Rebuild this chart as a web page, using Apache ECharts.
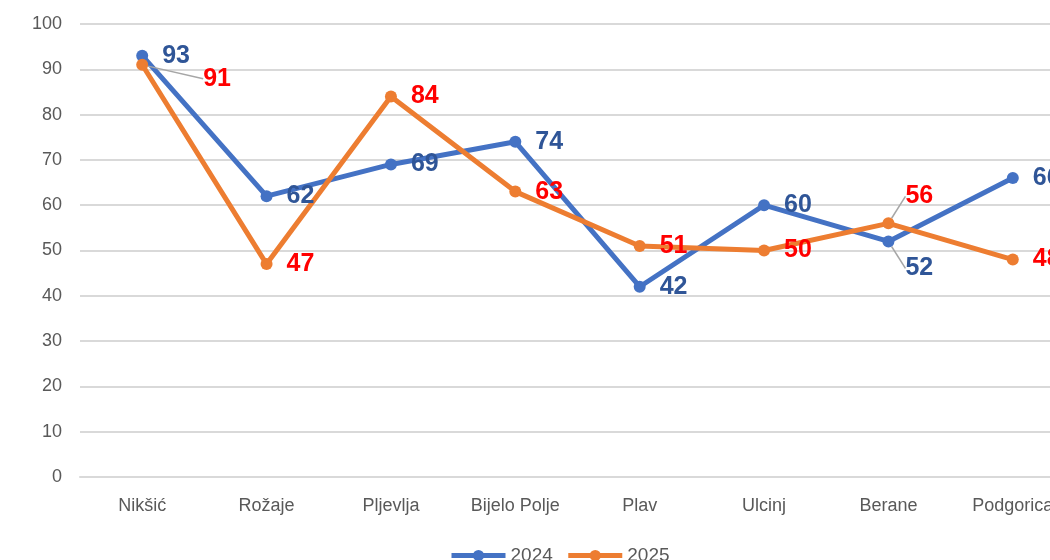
<!DOCTYPE html>
<html>
<head>
<meta charset="utf-8">
<script src="https://cdn.jsdelivr.net/npm/echarts@6/dist/echarts.min.js"></script>
<style>
  html, body { margin: 0; padding: 0; background: #fff; }
  #chart { width: 1050px; height: 560px; }
</style>
</head>
<body>
<div id="chart"></div>
<script>
var cities = ['Nikšić', 'Rožaje', 'Pljevlja', 'Bijelo Polje', 'Plav', 'Ulcinj', 'Berane', 'Podgorica'];
var v2024 = [93, 62, 69, 74, 42, 60, 52, 66];
var v2025 = [91, 47, 84, 63, 51, 50, 56, 48];
var yTicks = [0, 10, 20, 30, 40, 50, 60, 70, 80, 90, 100];

var font = 'Liberation Sans, sans-serif';

// labels that Excel moved away and tied back with a leader line
var moved2024 = { 6: [-3, 27] };
var moved2025 = { 0: [41, 14], 6: [-3, -27] };

function withLeaders(vals, moved) {
    return vals.map(function (v, i) {
        return moved[i] ? { value: v, labelLine: { show: true } } : v;
    });
}

var myChart = echarts.init(document.getElementById('chart'));
myChart.setOption({
    backgroundColor: '#fff',
    animation: false,
    // plot runs past the right edge, like the cropped original
    grid: { left: 80, right: -25, top: 24, bottom: 83, outerBoundsMode: 'none' },
    legend: {
        bottom: -10,
        left: 444,
        itemWidth: 54,
        itemHeight: 14,
        itemGap: 13,
        lineStyle: { width: 5 },
        textStyle: { color: '#595959', fontSize: 19, fontFamily: font },
        data: ['2024', '2025']
    },
    xAxis: {
        type: 'category',
        data: cities,
        axisLine: { lineStyle: { color: '#d9d9d9', width: 2 } },
        axisTick: { show: false },
        axisLabel: { color: '#595959', fontSize: 18, margin: 20, fontFamily: font }
    },
    yAxis: {
        type: 'value',
        min: yTicks[0],
        max: yTicks[yTicks.length - 1],
        interval: 10,
        axisLabel: { color: '#595959', fontSize: 18, margin: 18, fontFamily: font },
        splitLine: { lineStyle: { color: '#d9d9d9', width: 2 } }
    },
    series: [
        {
            name: '2024',
            type: 'line',
            data: withLeaders(v2024, moved2024),
            symbol: 'circle',
            symbolSize: 12,
            color: '#4472C4',
            lineStyle: { width: 5 },
            label: {
                show: true, position: 'right', distance: 14,
                color: '#2F5597', fontSize: 25, fontWeight: 'bold', fontFamily: font
            },
            labelLine: { show: false, lineStyle: { color: '#a6a6a6', width: 1.5 } },
            labelLayout: function (p) {
                var m = moved2024[p.dataIndex];
                return m ? { dx: m[0], dy: m[1] } : {};
            }
        },
        {
            name: '2025',
            type: 'line',
            data: withLeaders(v2025, moved2025),
            symbol: 'circle',
            symbolSize: 12,
            color: '#ED7D31',
            lineStyle: { width: 5 },
            label: {
                show: true, position: 'right', distance: 14,
                color: '#FF0000', fontSize: 25, fontWeight: 'bold', fontFamily: font
            },
            labelLine: { show: false, lineStyle: { color: '#a6a6a6', width: 1.5 } },
            labelLayout: function (p) {
                var m = moved2025[p.dataIndex];
                return m ? { dx: m[0], dy: m[1] } : {};
            }
        }
    ]
});
</script>
</body>
</html>
